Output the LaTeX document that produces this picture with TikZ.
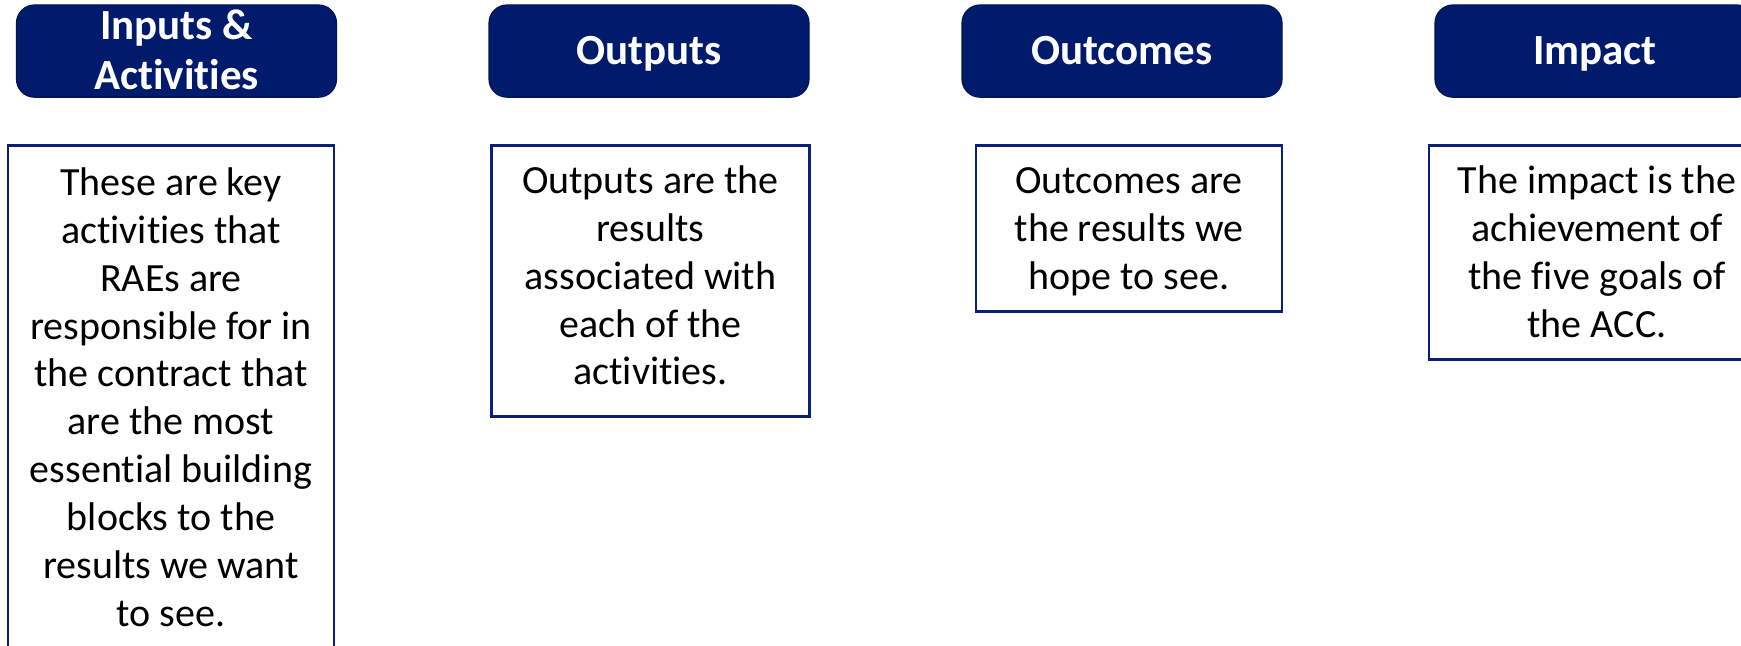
\documentclass[tikz,border=0pt]{standalone}
\usepackage{fontspec}
\setmainfont{Carlito}[Ligatures=CommonOff]
\definecolor{navy}{HTML}{001A6C}
\definecolor{navyline}{HTML}{0B1F78}
\begin{document}
\begin{tikzpicture}[x=0.5pt,y=-0.5pt,
  head/.style={draw=navy!80!black, line width=0.6pt, fill=navy, rounded corners=9pt,
    minimum width=160pt, inner ysep=0pt, anchor=north, align=center, text=white,
    text height=29.8pt, text depth=16.3pt,
    font=\fontsize{21.5}{25}\selectfont\bfseries},
  body/.style={draw=navyline, line width=1.4pt, anchor=north, inner ysep=0pt,
    align=center, font=\fontsize{20}{23.95}\selectfont}]
\clip (0,0) rectangle (1741,646);

% column headers
\node[head, text height=42.45pt, text depth=3.65pt] (h1) at (176.5,4.4) {Inputs \&\\Activities};
\node[head] (h2) at (649,4.4) {Outputs};
\node[head] (h3) at (1122,4.4) {Outcomes};
\node[head] (h4) at (1595,4.4) {Impact};

% text boxes (baseline of the box = last line)
\node[body, minimum width=163pt, text height=240.25pt, text depth=17.5pt] (b1) at (171,144.5)
  {These are key\\activities that\\RAEs are\\responsible for in\\the contract that\\are the most\\essential building\\blocks to the\\results we want\\to see.};
\node[body, minimum width=158.8pt, text height=119.55pt, text depth=15.7pt] (b2) at (650.5,144.5)
  {Outputs are the\\results\\associated with\\each of the\\activities.};
\node[body, minimum width=153pt, text height=71.9pt, text depth=10.85pt] (b3) at (1129,144.5)
  {Outcomes are\\the results we\\hope to see.};
\node[body, minimum width=168pt, text height=95.6pt, text depth=11.3pt] (b4) at (1597,144.5)
  {The impact is the\\achievement of\\the five goals of\\the ACC.};
\end{tikzpicture}
\end{document}
